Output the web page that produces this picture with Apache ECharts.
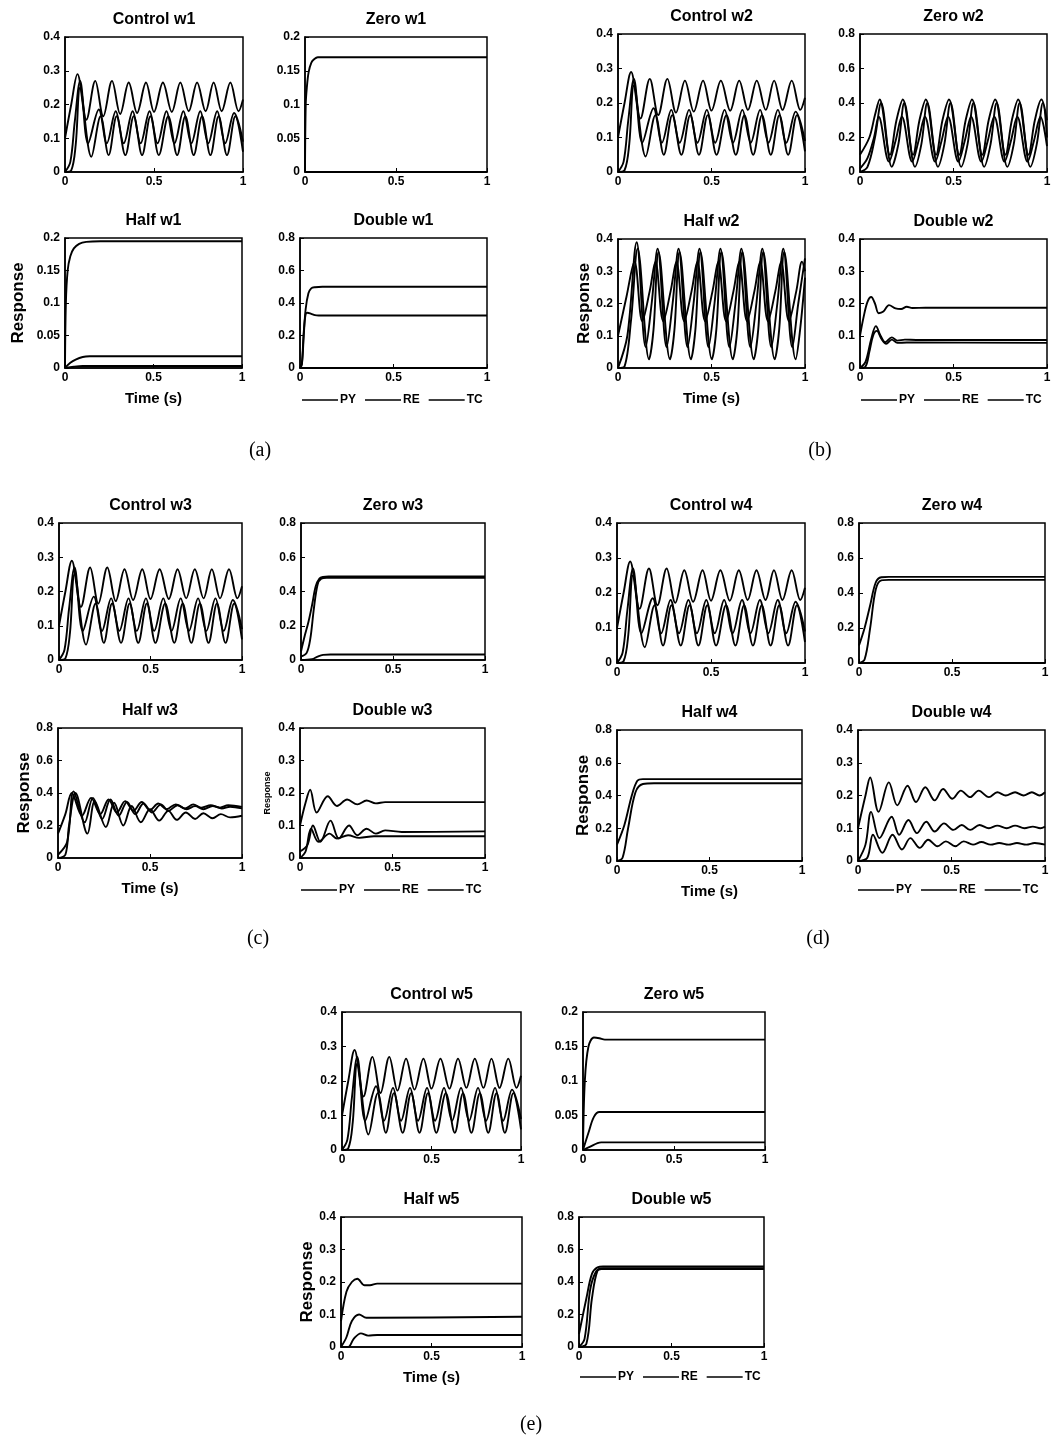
<!DOCTYPE html>
<html>
<head>
<meta charset="utf-8">
<script src="https://cdn.jsdelivr.net/npm/echarts@6/dist/echarts.min.js"></script>
<style>
html,body{margin:0;padding:0;background:#fff;}
#chart{width:1062px;height:1442px;}
</style>
</head>
<body>
<div id="chart"></div>
<script>
// ---------------- DATA ----------------
const seriesNames = ['PY', 'RE', 'TC'];
const xTickLabels = ['0', '0.5', '1'];

// Control (same in every group)
const ctrlT_PY = [0, 0.035, 0.07, 0.12, 0.17, 0.215, 0.264, 0.31, 0.358, 0.405, 0.455, 0.5, 0.55, 0.6, 0.648, 0.695, 0.742, 0.79, 0.835, 0.88, 0.929, 0.975, 1];
const ctrlPY   = [0.1, 0.2, 0.29, 0.155, 0.27, 0.165, 0.27, 0.172, 0.265, 0.175, 0.265, 0.178, 0.265, 0.178, 0.265, 0.18, 0.265, 0.18, 0.265, 0.18, 0.265, 0.18, 0.215];
const ctrlT_RE = [0, 0.03, 0.055, 0.085, 0.13, 0.19, 0.235, 0.285, 0.33, 0.38, 0.425, 0.475, 0.52, 0.57, 0.615, 0.665, 0.71, 0.76, 0.805, 0.855, 0.9, 0.95, 1];
const ctrlRE   = [0, 0.03, 0.15, 0.27, 0.085, 0.185, 0.085, 0.18, 0.085, 0.18, 0.085, 0.18, 0.085, 0.18, 0.085, 0.18, 0.085, 0.18, 0.085, 0.18, 0.085, 0.175, 0.09];
const ctrlT_TC = [0, 0.035, 0.06, 0.085, 0.148, 0.2, 0.245, 0.29, 0.339, 0.386, 0.433, 0.48, 0.527, 0.58, 0.63, 0.676, 0.723, 0.77, 0.817, 0.863, 0.91, 0.957, 1];
const ctrlTC   = [0, 0.005, 0.08, 0.25, 0.045, 0.165, 0.05, 0.165, 0.05, 0.165, 0.05, 0.165, 0.05, 0.165, 0.05, 0.165, 0.05, 0.165, 0.05, 0.165, 0.05, 0.165, 0.06];

// w1
const zero1T_PY = [0, 0.004, 0.01, 0.02, 0.035, 0.05, 0.07, 0.1, 1];
const zero1PY   = [0, 0.1, 0.125, 0.148, 0.162, 0.167, 0.17, 0.17, 0.17];
const zero1T_RE = [0, 1];
const zero1RE   = [0, 0];
const zero1T_TC = [0, 1];
const zero1TC   = [0, 0];
const half1T_PY = [0, 0.005, 0.015, 0.03, 0.05, 0.08, 0.12, 0.2, 1];
const half1PY   = [0, 0.1, 0.15, 0.172, 0.184, 0.191, 0.194, 0.195, 0.195];
const half1T_RE = [0, 0.03, 0.06, 0.1, 0.14, 0.2, 1];
const half1RE   = [0, 0.008, 0.013, 0.017, 0.018, 0.018, 0.018];
const half1T_TC = [0, 0.05, 0.1, 1];
const half1TC   = [0, 0.002, 0.003, 0.003];
const dbl1T_PY = [0, 0.01, 0.02, 0.03, 0.045, 0.06, 0.08, 0.12, 1];
const dbl1PY   = [0, 0.02, 0.2, 0.36, 0.46, 0.49, 0.497, 0.5, 0.5];
const dbl1T_RE = [0, 0.01, 0.02, 0.03, 0.04, 0.06, 0.08, 0.1, 1];
const dbl1RE   = [0, 0.03, 0.22, 0.33, 0.34, 0.333, 0.325, 0.323, 0.323];
const dbl1T_TC = [0, 1];
const dbl1TC   = [0, 0];

// w2
const zero2T_PY = [0, 0.05, 0.08, 0.105, 0.16, 0.195, 0.229, 0.284, 0.318, 0.352, 0.407, 0.441, 0.476, 0.531, 0.565, 0.599, 0.654, 0.688, 0.723, 0.778, 0.812, 0.846, 0.901, 0.935, 0.97, 1];
const zero2PY   = [0.1, 0.2, 0.33, 0.42, 0.1, 0.3, 0.42, 0.1, 0.3, 0.42, 0.1, 0.3, 0.42, 0.1, 0.3, 0.42, 0.1, 0.3, 0.42, 0.1, 0.3, 0.42, 0.1, 0.3, 0.42, 0.3];
const zero2T_RE = [0, 0.04, 0.08, 0.113, 0.17, 0.205, 0.237, 0.294, 0.328, 0.36, 0.417, 0.451, 0.484, 0.541, 0.575, 0.607, 0.664, 0.698, 0.731, 0.788, 0.822, 0.854, 0.911, 0.945, 0.978, 1];
const zero2RE   = [0, 0.03, 0.2, 0.4, 0.03, 0.16, 0.4, 0.03, 0.16, 0.4, 0.03, 0.16, 0.4, 0.03, 0.16, 0.4, 0.03, 0.16, 0.4, 0.03, 0.16, 0.4, 0.03, 0.16, 0.4, 0.2];
const zero2T_TC = [0, 0.04, 0.075, 0.1, 0.155, 0.19, 0.224, 0.279, 0.313, 0.347, 0.402, 0.436, 0.471, 0.526, 0.56, 0.594, 0.649, 0.683, 0.718, 0.773, 0.807, 0.841, 0.896, 0.93, 0.965, 1];
const zero2TC   = [0.02, 0.08, 0.2, 0.32, 0.06, 0.18, 0.32, 0.06, 0.18, 0.32, 0.06, 0.18, 0.32, 0.06, 0.18, 0.32, 0.06, 0.18, 0.32, 0.06, 0.18, 0.32, 0.06, 0.18, 0.32, 0.15];
const half2T_PY = [0, 0.045, 0.088, 0.13, 0.17, 0.2, 0.242, 0.282, 0.312, 0.354, 0.394, 0.424, 0.466, 0.506, 0.536, 0.578, 0.618, 0.648, 0.69, 0.73, 0.76, 0.802, 0.842, 0.872, 0.914, 0.954, 0.984, 1];
const half2PY   = [0.1, 0.22, 0.33, 0.145, 0.24, 0.33, 0.145, 0.24, 0.33, 0.145, 0.24, 0.33, 0.145, 0.24, 0.33, 0.145, 0.24, 0.33, 0.145, 0.24, 0.33, 0.145, 0.24, 0.33, 0.145, 0.24, 0.33, 0.3];
const half2T_RE = [0, 0.05, 0.1, 0.148, 0.18, 0.212, 0.26, 0.292, 0.324, 0.372, 0.404, 0.436, 0.484, 0.516, 0.548, 0.596, 0.628, 0.66, 0.708, 0.74, 0.772, 0.82, 0.852, 0.884, 0.932, 0.964, 1];
const half2RE   = [0, 0.1, 0.39, 0.065, 0.2, 0.37, 0.065, 0.2, 0.37, 0.065, 0.2, 0.37, 0.065, 0.2, 0.37, 0.065, 0.2, 0.37, 0.065, 0.2, 0.37, 0.065, 0.2, 0.37, 0.065, 0.2, 0.34];
const half2T_TC = [0, 0.035, 0.07, 0.105, 0.166, 0.19, 0.217, 0.278, 0.302, 0.329, 0.39, 0.414, 0.441, 0.502, 0.526, 0.553, 0.614, 0.638, 0.665, 0.726, 0.75, 0.777, 0.838, 0.862, 0.889, 0.95, 0.974, 1];
const half2TC   = [0, 0.005, 0.15, 0.37, 0.027, 0.12, 0.36, 0.027, 0.12, 0.36, 0.027, 0.12, 0.36, 0.027, 0.12, 0.36, 0.027, 0.12, 0.36, 0.027, 0.12, 0.36, 0.027, 0.12, 0.36, 0.027, 0.12, 0.28];
const dbl2T_PY = [0, 0.02, 0.04, 0.06, 0.08, 0.1, 0.125, 0.155, 0.19, 0.22, 0.25, 0.28, 0.35, 1];
const dbl2PY   = [0.1, 0.16, 0.205, 0.22, 0.2, 0.17, 0.175, 0.195, 0.185, 0.183, 0.19, 0.186, 0.187, 0.187];
const dbl2T_RE = [0, 0.03, 0.06, 0.085, 0.11, 0.135, 0.17, 0.2, 0.24, 0.3, 1];
const dbl2RE   = [0, 0.02, 0.09, 0.13, 0.1, 0.08, 0.095, 0.085, 0.088, 0.087, 0.087];
const dbl2T_TC = [0, 0.03, 0.05, 0.07, 0.09, 0.115, 0.14, 0.17, 0.2, 0.25, 1];
const dbl2TC   = [0, 0.005, 0.05, 0.1, 0.115, 0.09, 0.075, 0.088, 0.078, 0.079, 0.078];

// w3
const zero3T_PY = [0, 0.02, 0.04, 0.06, 0.08, 0.1, 0.12, 0.15, 1];
const zero3PY   = [0.05, 0.14, 0.22, 0.32, 0.43, 0.475, 0.485, 0.488, 0.488];
const zero3T_RE = [0, 0.03, 0.05, 0.07, 0.09, 0.11, 0.14, 1];
const zero3RE   = [0.02, 0.04, 0.12, 0.3, 0.44, 0.475, 0.48, 0.48];
const zero3T_TC = [0, 0.06, 0.09, 0.12, 0.16, 1];
const zero3TC   = [0, 0.005, 0.02, 0.03, 0.032, 0.032];
const half3T_PY = [0, 0.04, 0.075, 0.13, 0.18, 0.23, 0.275, 0.32, 0.365, 0.41, 0.455, 0.5, 0.545, 0.59, 0.64, 0.69, 0.735, 0.78, 0.83, 0.88, 0.925, 1];
const half3PY   = [0.15, 0.27, 0.4, 0.26, 0.37, 0.27, 0.36, 0.28, 0.35, 0.29, 0.345, 0.295, 0.335, 0.3, 0.33, 0.305, 0.33, 0.31, 0.325, 0.31, 0.325, 0.315];
const half3T_RE = [0, 0.05, 0.085, 0.145, 0.19, 0.24, 0.285, 0.33, 0.375, 0.42, 0.465, 0.51, 0.56, 0.6, 0.65, 0.7, 0.745, 0.79, 0.84, 0.89, 0.935, 1];
const half3RE   = [0.02, 0.1, 0.41, 0.22, 0.37, 0.24, 0.36, 0.26, 0.345, 0.27, 0.335, 0.28, 0.33, 0.29, 0.325, 0.3, 0.32, 0.3, 0.32, 0.305, 0.315, 0.305];
const half3T_TC = [0, 0.04, 0.06, 0.095, 0.16, 0.2, 0.26, 0.305, 0.355, 0.4, 0.45, 0.5, 0.55, 0.6, 0.645, 0.695, 0.745, 0.79, 0.84, 0.885, 0.935, 1];
const half3TC   = [0, 0.02, 0.2, 0.4, 0.15, 0.35, 0.19, 0.34, 0.2, 0.32, 0.22, 0.3, 0.23, 0.29, 0.235, 0.28, 0.24, 0.275, 0.245, 0.27, 0.25, 0.26];
const dbl3T_PY = [0, 0.03, 0.055, 0.09, 0.15, 0.2, 0.255, 0.31, 0.36, 0.41, 0.46, 1];
const dbl3PY   = [0.1, 0.17, 0.21, 0.14, 0.19, 0.16, 0.18, 0.165, 0.177, 0.168, 0.172, 0.172];
const dbl3T_RE = [0, 0.04, 0.07, 0.11, 0.165, 0.21, 0.265, 0.31, 0.36, 0.41, 0.46, 0.55, 1];
const dbl3RE   = [0.02, 0.04, 0.1, 0.05, 0.115, 0.06, 0.1, 0.07, 0.09, 0.075, 0.085, 0.08, 0.082];
const dbl3T_TC = [0, 0.03, 0.06, 0.1, 0.16, 0.2, 0.26, 0.32, 0.4, 1];
const dbl3TC   = [0, 0.02, 0.09, 0.05, 0.075, 0.06, 0.07, 0.062, 0.067, 0.067];

// w4
const zero4T_PY = [0, 0.03, 0.06, 0.09, 0.12, 0.16, 1];
const zero4PY   = [0.1, 0.2, 0.33, 0.46, 0.49, 0.492, 0.492];
const zero4T_RE = [0, 0.03, 0.06, 0.09, 0.12, 0.16, 1];
const zero4RE   = [0, 0.02, 0.2, 0.42, 0.472, 0.475, 0.475];
const zero4T_TC = [0, 1];
const zero4TC   = [0, 0];
const half4T_PY = [0, 0.04, 0.08, 0.11, 0.14, 0.2, 1];
const half4PY   = [0.1, 0.22, 0.4, 0.49, 0.5, 0.5, 0.5];
const half4T_RE = [0, 0.03, 0.06, 0.1, 0.14, 0.2, 1];
const half4RE   = [0, 0.02, 0.2, 0.42, 0.47, 0.475, 0.475];
const half4T_TC = [0, 1];
const half4TC   = [0, 0];
const dbl4T_PY = [0, 0.04, 0.065, 0.11, 0.165, 0.21, 0.265, 0.31, 0.36, 0.41, 0.455, 0.505, 0.55, 0.6, 0.645, 0.7, 0.745, 0.79, 0.84, 0.885, 0.93, 0.97, 1];
const dbl4PY   = [0.1, 0.2, 0.255, 0.15, 0.24, 0.17, 0.23, 0.18, 0.225, 0.185, 0.22, 0.19, 0.215, 0.195, 0.215, 0.195, 0.21, 0.2, 0.21, 0.2, 0.21, 0.2, 0.21];
const dbl4T_RE = [0, 0.04, 0.07, 0.115, 0.18, 0.22, 0.27, 0.315, 0.365, 0.41, 0.46, 0.51, 0.555, 0.6, 0.65, 0.7, 0.745, 0.795, 0.84, 0.89, 0.935, 0.975, 1];
const dbl4RE   = [0, 0.05, 0.15, 0.07, 0.135, 0.08, 0.125, 0.085, 0.12, 0.09, 0.115, 0.095, 0.11, 0.095, 0.11, 0.1, 0.108, 0.1, 0.108, 0.1, 0.105, 0.1, 0.105];
const dbl4T_TC = [0, 0.05, 0.08, 0.13, 0.185, 0.235, 0.28, 0.33, 0.375, 0.425, 0.47, 0.52, 0.565, 0.615, 0.66, 0.71, 0.755, 0.805, 0.85, 0.9, 0.945, 1];
const dbl4TC   = [0, 0.01, 0.08, 0.025, 0.08, 0.035, 0.07, 0.04, 0.065, 0.045, 0.06, 0.045, 0.06, 0.05, 0.058, 0.05, 0.055, 0.05, 0.055, 0.05, 0.055, 0.05];

// w5
const zero5T_PY = [0, 0.01, 0.03, 0.06, 0.09, 0.12, 1];
const zero5PY   = [0, 0.1, 0.15, 0.163, 0.162, 0.16, 0.16];
const zero5T_RE = [0, 0.03, 0.06, 0.09, 0.12, 1];
const zero5RE   = [0, 0.025, 0.048, 0.055, 0.055, 0.055];
const zero5T_TC = [0, 0.04, 0.08, 0.1, 1];
const zero5TC   = [0, 0.005, 0.01, 0.011, 0.011];
const half5T_PY = [0, 0.03, 0.06, 0.09, 0.13, 0.16, 0.2, 1];
const half5PY   = [0.08, 0.17, 0.2, 0.21, 0.19, 0.19, 0.195, 0.195];
const half5T_RE = [0, 0.03, 0.06, 0.1, 0.14, 0.18, 1];
const half5RE   = [0, 0.03, 0.08, 0.1, 0.09, 0.09, 0.093];
const half5T_TC = [0, 0.04, 0.07, 0.11, 0.15, 0.2, 1];
const half5TC   = [0, 0, 0.025, 0.042, 0.035, 0.037, 0.037];
const dbl5T_PY = [0, 0.04, 0.07, 0.1, 0.13, 1];
const dbl5PY   = [0.08, 0.3, 0.45, 0.49, 0.495, 0.495];
const dbl5T_RE = [0, 0.03, 0.06, 0.09, 0.12, 1];
const dbl5RE   = [0, 0.05, 0.35, 0.46, 0.48, 0.48];
const dbl5T_TC = [0, 0.04, 0.07, 0.1, 0.13, 1];
const dbl5TC   = [0, 0.02, 0.3, 0.47, 0.485, 0.485];

// ---------------- LAYOUT ----------------
const panels = [
  // (a)
  {title:'Control w1', box:[65,37,178,135], y:[0.4,0.1], s:[[ctrlT_PY,ctrlPY],[ctrlT_RE,ctrlRE],[ctrlT_TC,ctrlTC]]},
  {title:'Zero w1', box:[305,37,182,135], y:[0.2,0.05], s:[[zero1T_PY,zero1PY],[zero1T_RE,zero1RE],[zero1T_TC,zero1TC]]},
  {title:'Half w1', box:[65,238,177,130], y:[0.2,0.05], s:[[half1T_PY,half1PY],[half1T_RE,half1RE],[half1T_TC,half1TC]], yName:'Response', yGap:38, xName:'Time (s)'},
  {title:'Double w1', box:[300,238,187,130], y:[0.8,0.2], s:[[dbl1T_PY,dbl1PY],[dbl1T_RE,dbl1RE],[dbl1T_TC,dbl1TC]], legend:[297,389]},
  // (b)
  {title:'Control w2', box:[618,34,187,138], y:[0.4,0.1], s:[[ctrlT_PY,ctrlPY],[ctrlT_RE,ctrlRE],[ctrlT_TC,ctrlTC]]},
  {title:'Zero w2', box:[860,34,187,138], y:[0.8,0.2], s:[[zero2T_PY,zero2PY],[zero2T_RE,zero2RE],[zero2T_TC,zero2TC]]},
  {title:'Half w2', box:[618,239,187,129], y:[0.4,0.1], s:[[half2T_PY,half2PY],[half2T_RE,half2RE],[half2T_TC,half2TC]], yName:'Response', yGap:25, xName:'Time (s)'},
  {title:'Double w2', box:[860,239,187,129], y:[0.4,0.1], s:[[dbl2T_PY,dbl2PY],[dbl2T_RE,dbl2RE],[dbl2T_TC,dbl2TC]], legend:[856,389]},
  // (c)
  {title:'Control w3', box:[59,523,183,137], y:[0.4,0.1], s:[[ctrlT_PY,ctrlPY],[ctrlT_RE,ctrlRE],[ctrlT_TC,ctrlTC]]},
  {title:'Zero w3', box:[301,523,184,137], y:[0.8,0.2], s:[[zero3T_PY,zero3PY],[zero3T_RE,zero3RE],[zero3T_TC,zero3TC]]},
  {title:'Half w3', box:[58,728,184,130], y:[0.8,0.2], s:[[half3T_PY,half3PY],[half3T_RE,half3RE],[half3T_TC,half3TC]], yName:'Response', yGap:24, xName:'Time (s)'},
  {title:'Double w3', box:[300,728,185,130], y:[0.4,0.1], s:[[dbl3T_PY,dbl3PY],[dbl3T_RE,dbl3RE],[dbl3T_TC,dbl3TC]], yName:'Response', yGap:28, ySmall:true, legend:[296,879]},
  // (d)
  {title:'Control w4', box:[617,523,188,140], y:[0.4,0.1], s:[[ctrlT_PY,ctrlPY],[ctrlT_RE,ctrlRE],[ctrlT_TC,ctrlTC]]},
  {title:'Zero w4', box:[859,523,186,140], y:[0.8,0.2], s:[[zero4T_PY,zero4PY],[zero4T_RE,zero4RE],[zero4T_TC,zero4TC]]},
  {title:'Half w4', box:[617,730,185,131], y:[0.8,0.2], s:[[half4T_PY,half4PY],[half4T_RE,half4RE],[half4T_TC,half4TC]], yName:'Response', yGap:25, xName:'Time (s)'},
  {title:'Double w4', box:[858,730,187,131], y:[0.4,0.1], s:[[dbl4T_PY,dbl4PY],[dbl4T_RE,dbl4RE],[dbl4T_TC,dbl4TC]], legend:[853,879]},
  // (e)
  {title:'Control w5', box:[342,1012,179,138], y:[0.4,0.1], s:[[ctrlT_PY,ctrlPY],[ctrlT_RE,ctrlRE],[ctrlT_TC,ctrlTC]]},
  {title:'Zero w5', box:[583,1012,182,138], y:[0.2,0.05], s:[[zero5T_PY,zero5PY],[zero5T_RE,zero5RE],[zero5T_TC,zero5TC]]},
  {title:'Half w5', box:[341,1217,181,130], y:[0.4,0.1], s:[[half5T_PY,half5PY],[half5T_RE,half5RE],[half5T_TC,half5TC]], yName:'Response', yGap:25, xName:'Time (s)'},
  {title:'Double w5', box:[579,1217,185,130], y:[0.8,0.2], s:[[dbl5T_PY,dbl5PY],[dbl5T_RE,dbl5RE],[dbl5T_TC,dbl5TC]], legend:[575,1366]}
];
const captions = [['(a)',260,451],['(b)',820,451],['(c)',258,939],['(d)',818,939],['(e)',531,1425]];

const FONT = '"Liberation Sans", Arial, sans-serif';
const grids = [], xAxes = [], yAxes = [], series = [], graphics = [], legends = [];

panels.forEach((p, i) => {
  const [l, t, w, h] = p.box;
  grids.push({left:l, top:t, width:w, height:h, show:true, borderColor:'#000', borderWidth:1.5, backgroundColor:'#fff', containLabel:false});
  xAxes.push({
    type:'value', gridIndex:i, min:0, max:1, interval:0.5,
    axisLine:{show:true, lineStyle:{color:'#000', width:1.5}},
    axisTick:{show:true, inside:true, length:4, lineStyle:{color:'#000'}},
    splitLine:{show:false},
    axisLabel:{color:'#000', fontFamily:FONT, fontWeight:'bold', fontSize:12, margin:4,
      formatter:(v) => xTickLabels[Math.round(v*2)]},
    name: p.xName || '', nameLocation:'middle', nameGap:23,
    nameTextStyle:{color:'#000', fontFamily:FONT, fontWeight:'bold', fontSize:15}
  });
  yAxes.push({
    type:'value', gridIndex:i, min:0, max:p.y[0], interval:p.y[1],
    axisLine:{show:true, lineStyle:{color:'#000', width:1.5}},
    axisTick:{show:true, inside:true, length:4, lineStyle:{color:'#000'}},
    splitLine:{show:false},
    axisLabel:{color:'#000', fontFamily:FONT, fontWeight:'bold', fontSize:12, margin:5,
      formatter:(v) => String(parseFloat(v.toFixed(3)))},
    name: p.yName || '', nameLocation:'middle', nameRotate:90, nameGap:p.yGap || 30,
    nameTextStyle:{color:'#000', fontFamily:FONT, fontWeight:'bold', fontSize:p.ySmall ? 9 : 17}
  });
  p.s.forEach((pair, j) => {
    const [tt, vv] = pair;
    series.push({
      type:'line', name:seriesNames[j], xAxisIndex:i, yAxisIndex:i,
      data: tt.map((x, k) => [x, vv[k]]),
      showSymbol:false, symbol:'none', smooth:0.35, clip:true,
      lineStyle:{color:'#000', width:1.9}, itemStyle:{color:'#000'},
      animation:false
    });
  });
  graphics.push({type:'text', x:l + w/2, y:t - 17,
    style:{text:p.title, textAlign:'center', textVerticalAlign:'middle', fill:'#000',
      font:'bold 16px ' + FONT}});
  if (p.legend) {
    legends.push({left:p.legend[0], top:p.legend[1], orient:'horizontal', data:seriesNames,
      icon:'rect', itemWidth:36, itemHeight:1.6, itemGap:9, selectedMode:false,
      textStyle:{color:'#000', fontFamily:FONT, fontWeight:'bold', fontSize:12, padding:[0,0,0,-3]}});
  }
});
captions.forEach(c => {
  graphics.push({type:'text', x:c[1], y:c[2],
    style:{text:c[0], textAlign:'center', textVerticalAlign:'middle', fill:'#000',
      font:'20px "Liberation Serif", "DejaVu Serif", serif'}});
});

const chart = echarts.init(document.getElementById('chart'), null, {renderer:'canvas'});
chart.setOption({
  animation:false,
  backgroundColor:'#fff',
  color:['#000'],
  grid:grids, xAxis:xAxes, yAxis:yAxes, series:series,
  legend:legends, graphic:graphics
});
</script>
</body>
</html>
